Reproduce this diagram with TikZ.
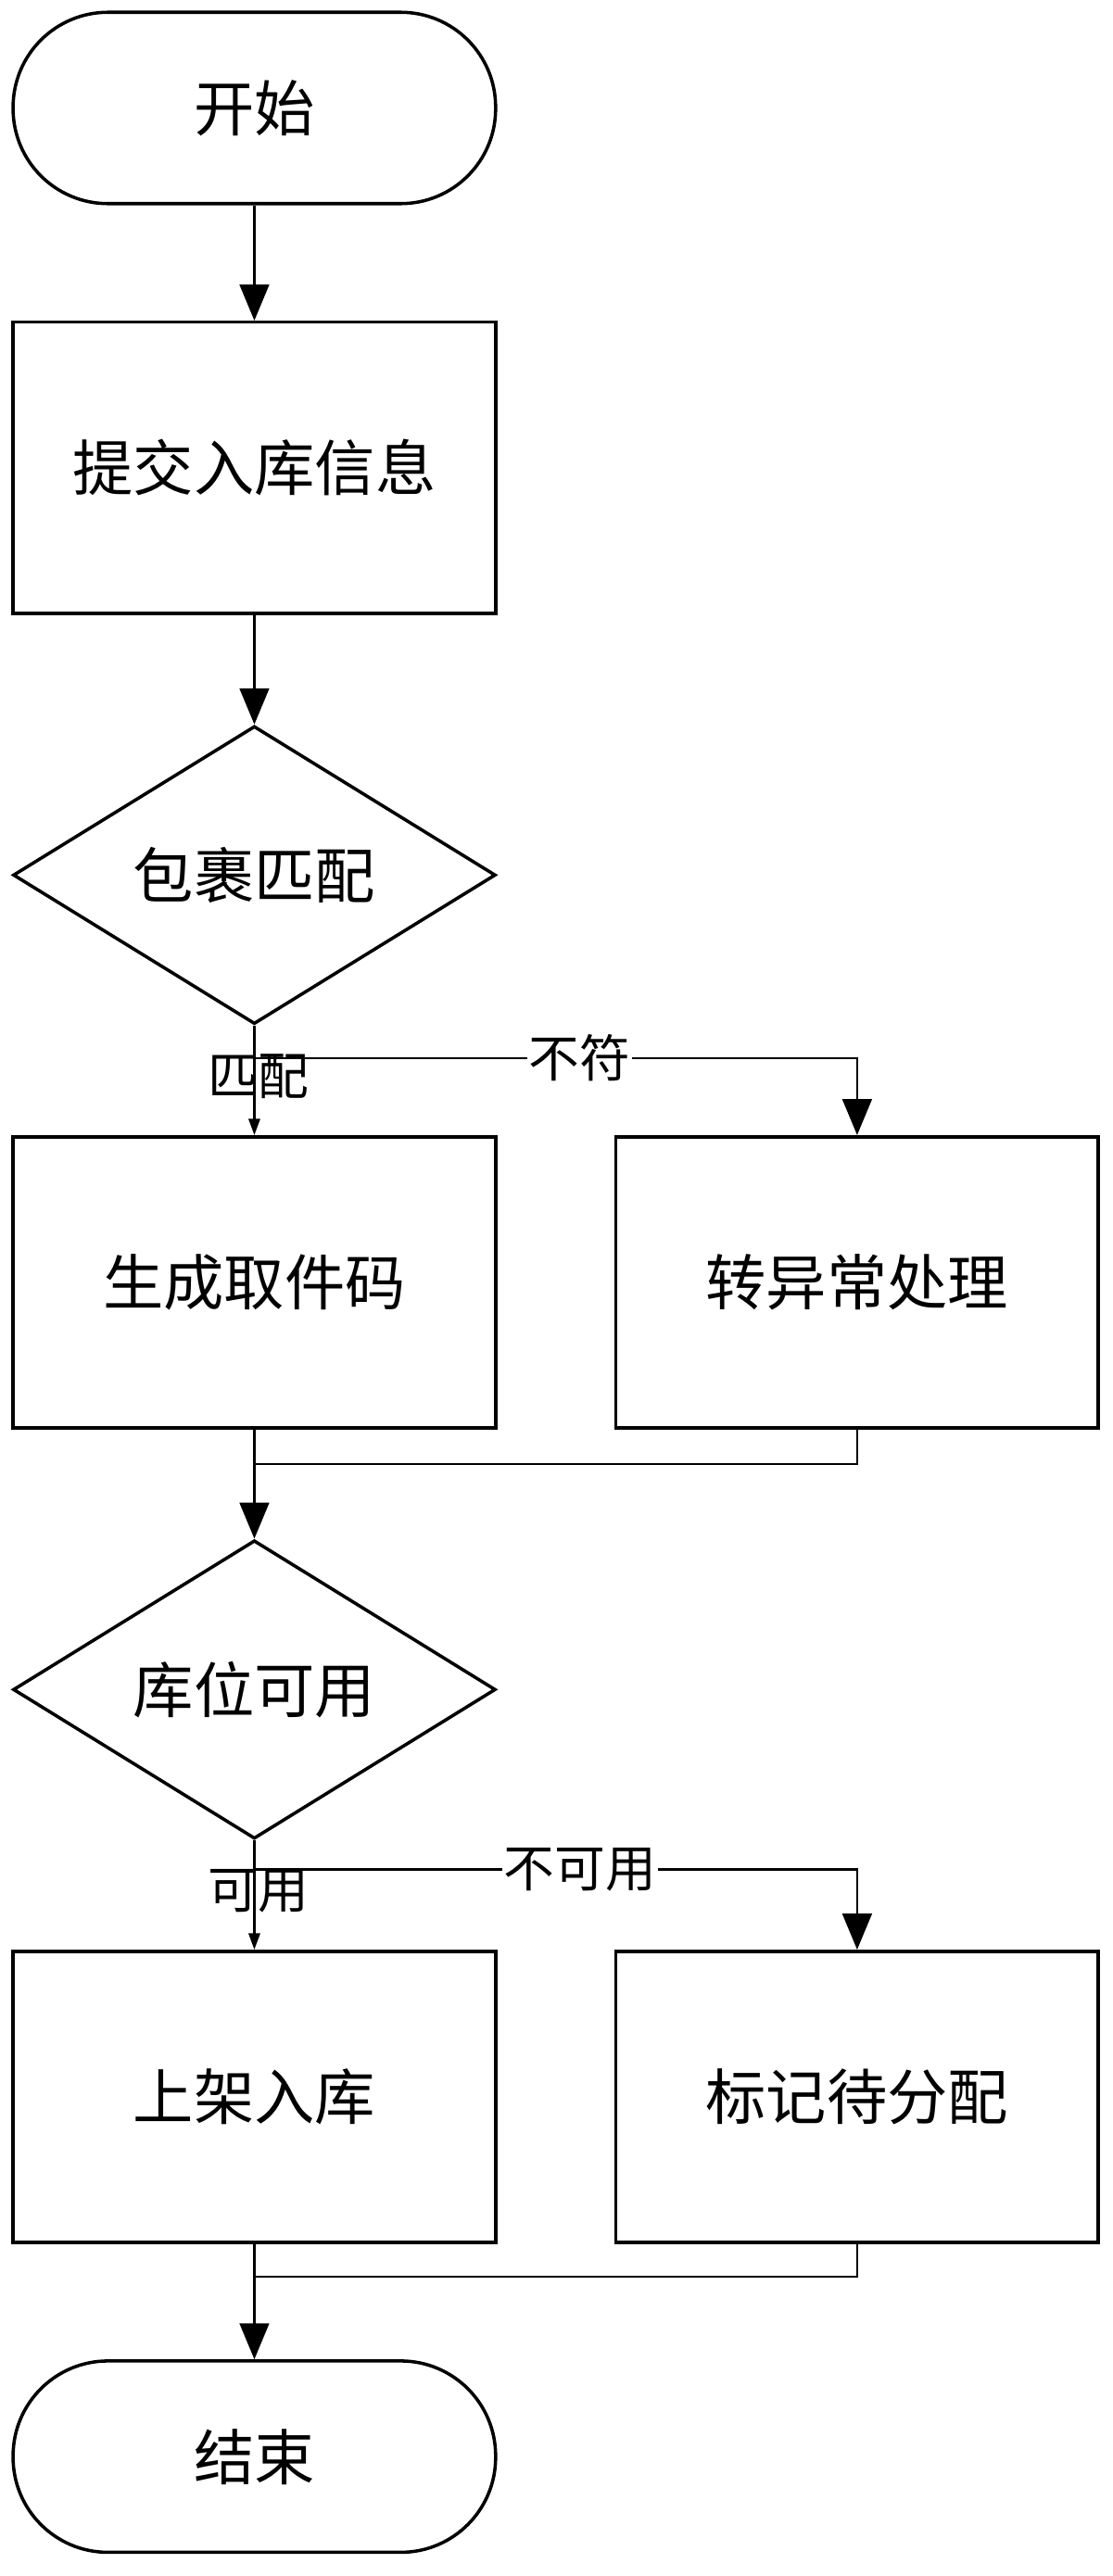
\documentclass[tikz,border=0pt]{standalone}
\usepackage{fontspec}
\newfontfamily\cjk{Noto Sans CJK SC}
\usetikzlibrary{shapes.geometric,arrows.meta}
\begin{document}
\begin{tikzpicture}[x=1pt,y=-1pt,
  every node/.style={font=\cjk\fontsize{37}{40}\selectfont},
  term/.style={draw,line width=2pt,rounded corners=58pt,minimum width=295pt,minimum height=117pt,inner sep=0},
  box/.style={draw,line width=2pt,minimum width=295pt,minimum height=178pt,inner sep=0},
  dia/.style={draw,diamond,line width=2pt,minimum width=295pt,minimum height=176pt,inner sep=0},
  lab/.style={font=\cjk\fontsize{31}{34}\selectfont,fill=white,inner sep=1pt},
  con/.style={line width=1.3pt},
  arr/.style={con,-{Triangle[length=22pt,width=18pt]}},
  sarr/.style={con,-{Triangle[length=10pt,width=7pt]}}]
\useasboundingbox (0,0) rectangle (680,1575);
\node[term] (s) at (155.5,66) {开始};
\node[box] (b1) at (155.5,286) {提交入库信息};
\node[dia] (d1) at (155.5,535) {包裹匹配};
\node[box] (b2) at (155.5,784) {生成取件码};
\node[box] (b3) at (524,784) {转异常处理};
\node[dia] (d2) at (155.5,1033) {库位可用};
\node[box] (b4) at (155.5,1282) {上架入库};
\node[box] (b5) at (524,1282) {标记待分配};
\node[term] (e) at (155.5,1502) {结束};
\coordinate (m1) at (155.5,895);
\coordinate (m2) at (155.5,1392);
\coordinate (j1) at (155.5,647);
\coordinate (j2) at (155.5,1143);
\draw[arr] (s) -- (b1);
\draw[arr] (b1) -- (d1);
\draw[con] (d1.south) -- (j1);
\draw[arr] (j1) -| node[lab,pos=0.27]{不符} (b3.north);
\draw[sarr] (j1) -- (b2.north);
\node[lab,fill=none] at (158,658) {匹配};
\draw[con] (b3.south) |- (m1);
\draw[arr] (b2.south) -- (d2.north);
\draw[con] (d2.south) -- (j2);
\draw[arr] (j2) -| node[lab,pos=0.27]{不可用} (b5.north);
\draw[sarr] (j2) -- (b4.north);
\node[lab,fill=none] at (158,1156) {可用};
\draw[con] (b5.south) |- (m2);
\draw[arr] (b4.south) -- (e.north);
\end{tikzpicture}
\end{document}
